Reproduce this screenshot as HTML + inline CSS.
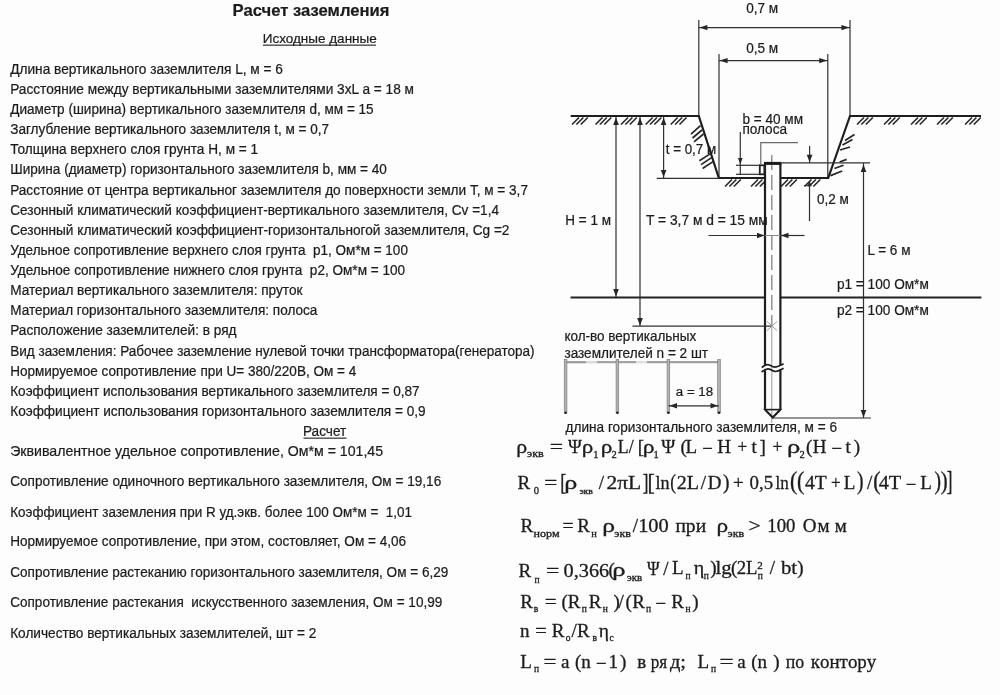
<!DOCTYPE html><html><head><meta charset="utf-8"><style>
html,body{margin:0;padding:0;background:#fdfdfd;width:1000px;height:695px;overflow:hidden}
svg{position:absolute;left:0;top:0;filter:blur(0.3px)}
.s{font-family:"Liberation Sans",sans-serif;fill:#1c1c1c;stroke:#1c1c1c;stroke-width:0.22px;white-space:pre}
.f{font-family:"Liberation Serif",serif;font-kerning:none;fill:#1c1c1c;stroke:#1c1c1c;stroke-width:0.3px;white-space:pre}
</style></head><body>
<svg width="1000" height="695" viewBox="0 0 1000 695">
<text class="s" x="232.6" y="15.9" font-size="16.65" font-weight="bold" transform="matrix(1.0000,0,0,1.030,-0.00,-0.48)" >Расчет заземления</text>
<text class="s" x="262.7" y="43.3" font-size="13.5" >Исходные данные</text>
<rect x="263" y="44.6" width="113" height="1.1" fill="#1c1c1c"/>
<text class="s" x="10.2" y="73.9" font-size="13.63" transform="matrix(1.0037,0,0,1.030,-0.04,-2.22)" >Длина вертикального заземлителя L, м = 6</text>
<text class="s" x="10.2" y="94.02" font-size="13.63" transform="matrix(1.0025,0,0,1.030,-0.03,-2.82)" >Расстояние между вертикальными заземлителями 3xL a = 18 м</text>
<text class="s" x="10.2" y="114.14" font-size="13.63" transform="matrix(0.9956,0,0,1.030,0.04,-3.42)" >Диаметр (ширина) вертикального заземлителя d, мм = 15</text>
<text class="s" x="10.2" y="134.26" font-size="13.63" transform="matrix(0.9969,0,0,1.030,0.03,-4.03)" >Заглубление вертикального заземлителя t, м = 0,7</text>
<text class="s" x="10.2" y="154.38" font-size="13.63" transform="matrix(1.0000,0,0,1.030,-0.00,-4.63)" >Толщина верхнего слоя грунта H, м = 1</text>
<text class="s" x="10.2" y="174.5" font-size="13.63" transform="matrix(0.9973,0,0,1.030,0.03,-5.24)" >Ширина (диаметр) горизонтального заземлителя b, мм = 40</text>
<text class="s" x="10.2" y="194.62" font-size="13.63" transform="matrix(0.9977,0,0,1.030,0.02,-5.84)" >Расстояние от центра вертикальног заземлителя до поверхности земли T, м = 3,7</text>
<text class="s" x="10.2" y="214.74" font-size="13.63" transform="matrix(0.9992,0,0,1.030,0.01,-6.44)" >Сезонный климатический коэффициент-вертикального заземлителя, Cv =1,4</text>
<text class="s" x="10.2" y="234.86" font-size="13.63" transform="matrix(1.0020,0,0,1.030,-0.02,-7.05)" >Сезонный климатический коэффициент-горизонтальногой заземлителя, Cg =2</text>
<text class="s" x="10.2" y="254.98" font-size="13.63" transform="matrix(0.9930,0,0,1.030,0.07,-7.65)" >Удельное сопротивление верхнего слоя грунта  p1, Ом*м = 100</text>
<text class="s" x="10.2" y="275.1" font-size="13.63" transform="matrix(0.9975,0,0,1.030,0.03,-8.25)" >Удельное сопротивление нижнего слоя грунта  p2, Ом*м = 100</text>
<text class="s" x="10.2" y="295.22" font-size="13.63" transform="matrix(0.9993,0,0,1.030,0.01,-8.86)" >Материал вертикального заземлителя: пруток</text>
<text class="s" x="10.2" y="315.34" font-size="13.63" transform="matrix(0.9961,0,0,1.030,0.04,-9.46)" >Материал горизонтального заземлителя: полоса</text>
<text class="s" x="10.2" y="335.46" font-size="13.63" transform="matrix(0.9996,0,0,1.030,0.00,-10.06)" >Расположение заземлителей: в ряд</text>
<text class="s" x="10.2" y="355.58" font-size="13.63" transform="matrix(0.9939,0,0,1.030,0.06,-10.67)" >Вид заземления: Рабочее заземление нулевой точки трансформатора(генератора)</text>
<text class="s" x="10.2" y="375.7" font-size="13.63" transform="matrix(0.9934,0,0,1.030,0.07,-11.27)" >Нормируемое сопротивление при U= 380/220В, Ом = 4</text>
<text class="s" x="10.2" y="395.82" font-size="13.63" transform="matrix(0.9978,0,0,1.030,0.02,-11.87)" >Коэффициент использования вертикального заземлителя = 0,87</text>
<text class="s" x="10.2" y="415.94" font-size="13.63" transform="matrix(1.0000,0,0,1.030,-0.00,-12.48)" >Коэффициент использования горизонтального заземлителя = 0,9</text>
<text class="s" x="303.0" y="436.4" font-size="13.6" transform="matrix(1.0000,0,0,1.030,-0.00,-13.09)" >Расчет</text>
<rect x="303.5" y="437.6" width="43" height="1.1" fill="#1c1c1c"/>
<text class="s" x="10.2" y="455.8" font-size="14.15" transform="matrix(1.0000,0,0,1.030,-0.00,-13.67)" >Эквивалентное удельное сопротивление, Ом*м = 101,45</text>
<text class="s" x="10.2" y="486.5" font-size="13.63" transform="matrix(0.9977,0,0,1.030,0.02,-14.60)" >Сопротивление одиночного вертикального заземлителя, Ом = 19,16</text>
<text class="s" x="10.2" y="516.7" font-size="13.63" transform="matrix(0.9899,0,0,1.030,0.10,-15.50)" >Коэффициент заземления при R уд.экв. более 100 Ом*м =  1,01</text>
<text class="s" x="10.2" y="546.4" font-size="13.63" transform="matrix(0.9962,0,0,1.030,0.04,-16.39)" >Нормируемое сопротивление, при этом, состовляет, Ом = 4,06</text>
<text class="s" x="10.2" y="577.0" font-size="13.63" transform="matrix(0.9970,0,0,1.030,0.03,-17.31)" >Сопротивление растеканию горизонтального заземлителя, Ом = 6,29</text>
<text class="s" x="10.2" y="607.2" font-size="13.63" transform="matrix(0.9949,0,0,1.030,0.05,-18.22)" >Сопротивление растекания  искусственного заземления, Ом = 10,99</text>
<text class="s" x="10.2" y="637.7" font-size="13.63" transform="matrix(1.0007,0,0,1.030,-0.01,-19.13)" >Количество вертикальных заземлителей, шт = 2</text>
<line x1="698.8" y1="20" x2="698.8" y2="116" stroke="#303030" stroke-width="1.2" /><line x1="850" y1="20" x2="850" y2="116" stroke="#303030" stroke-width="1.2" /><line x1="719" y1="54" x2="719" y2="178" stroke="#303030" stroke-width="1.2" /><line x1="827.8" y1="54" x2="827.8" y2="178" stroke="#303030" stroke-width="1.2" /><line x1="698.8" y1="27.6" x2="850" y2="27.6" stroke="#303030" stroke-width="1.2" /><polygon points="699.4,27.6 707.4,25.0 707.4,30.2" fill="#262626"/><polygon points="849.4,27.6 841.4,25.0 841.4,30.2" fill="#262626"/><line x1="719" y1="60.6" x2="827.8" y2="60.6" stroke="#303030" stroke-width="1.2" /><polygon points="719.6,60.6 727.6,58.0 727.6,63.2" fill="#262626"/><polygon points="827.2,60.6 819.2,58.0 819.2,63.2" fill="#262626"/><text class="s" x="746.2" y="13" font-size="13.6" transform="matrix(1.0000,0,0,1.030,-0.00,-0.39)" >0,7 м</text><text class="s" x="746.2" y="53" font-size="13.6" transform="matrix(1.0000,0,0,1.030,-0.00,-1.59)" >0,5 м</text><polyline points="570.7,116 698.8,116 718.8,178 828.2,178 850,116 981,116" fill="none" stroke="#1e1e1e" stroke-width="2.2" stroke-linejoin="miter" /><line x1="656.7" y1="178.3" x2="719" y2="178.3" stroke="#303030" stroke-width="1.3" /><line x1="572.0" y1="124.5" x2="579.0" y2="117.5" stroke="#262626" stroke-width="1.6" /><line x1="576.4" y1="124.5" x2="583.4" y2="117.5" stroke="#262626" stroke-width="1.6" /><line x1="580.8" y1="124.5" x2="587.8" y2="117.5" stroke="#262626" stroke-width="1.6" /><line x1="595.5" y1="124.5" x2="602.5" y2="117.5" stroke="#262626" stroke-width="1.6" /><line x1="599.9" y1="124.5" x2="606.9" y2="117.5" stroke="#262626" stroke-width="1.6" /><line x1="604.3" y1="124.5" x2="611.3" y2="117.5" stroke="#262626" stroke-width="1.6" /><line x1="621.0" y1="124.5" x2="628.0" y2="117.5" stroke="#262626" stroke-width="1.6" /><line x1="625.4" y1="124.5" x2="632.4" y2="117.5" stroke="#262626" stroke-width="1.6" /><line x1="629.8" y1="124.5" x2="636.8" y2="117.5" stroke="#262626" stroke-width="1.6" /><line x1="645.6" y1="124.5" x2="652.6" y2="117.5" stroke="#262626" stroke-width="1.6" /><line x1="650.0" y1="124.5" x2="657.0" y2="117.5" stroke="#262626" stroke-width="1.6" /><line x1="654.4" y1="124.5" x2="661.4" y2="117.5" stroke="#262626" stroke-width="1.6" /><line x1="670.7" y1="124.5" x2="677.7" y2="117.5" stroke="#262626" stroke-width="1.6" /><line x1="675.1" y1="124.5" x2="682.1" y2="117.5" stroke="#262626" stroke-width="1.6" /><line x1="679.5" y1="124.5" x2="686.5" y2="117.5" stroke="#262626" stroke-width="1.6" /><line x1="857.0" y1="124.5" x2="864.0" y2="117.5" stroke="#262626" stroke-width="1.6" /><line x1="861.4" y1="124.5" x2="868.4" y2="117.5" stroke="#262626" stroke-width="1.6" /><line x1="865.8" y1="124.5" x2="872.8" y2="117.5" stroke="#262626" stroke-width="1.6" /><line x1="884.0" y1="124.5" x2="891.0" y2="117.5" stroke="#262626" stroke-width="1.6" /><line x1="888.4" y1="124.5" x2="895.4" y2="117.5" stroke="#262626" stroke-width="1.6" /><line x1="892.8" y1="124.5" x2="899.8" y2="117.5" stroke="#262626" stroke-width="1.6" /><line x1="911.0" y1="124.5" x2="918.0" y2="117.5" stroke="#262626" stroke-width="1.6" /><line x1="915.4" y1="124.5" x2="922.4" y2="117.5" stroke="#262626" stroke-width="1.6" /><line x1="919.8" y1="124.5" x2="926.8" y2="117.5" stroke="#262626" stroke-width="1.6" /><line x1="937.0" y1="124.5" x2="944.0" y2="117.5" stroke="#262626" stroke-width="1.6" /><line x1="941.4" y1="124.5" x2="948.4" y2="117.5" stroke="#262626" stroke-width="1.6" /><line x1="945.8" y1="124.5" x2="952.8" y2="117.5" stroke="#262626" stroke-width="1.6" /><line x1="965.0" y1="124.5" x2="972.0" y2="117.5" stroke="#262626" stroke-width="1.6" /><line x1="969.4" y1="124.5" x2="976.4" y2="117.5" stroke="#262626" stroke-width="1.6" /><line x1="973.8" y1="124.5" x2="980.8" y2="117.5" stroke="#262626" stroke-width="1.6" /><line x1="725.0" y1="186.5" x2="732.0" y2="179.5" stroke="#262626" stroke-width="1.6" /><line x1="729.4" y1="186.5" x2="736.4" y2="179.5" stroke="#262626" stroke-width="1.6" /><line x1="733.8" y1="186.5" x2="740.8" y2="179.5" stroke="#262626" stroke-width="1.6" /><line x1="751.0" y1="186.5" x2="758.0" y2="179.5" stroke="#262626" stroke-width="1.6" /><line x1="755.4" y1="186.5" x2="762.4" y2="179.5" stroke="#262626" stroke-width="1.6" /><line x1="759.8" y1="186.5" x2="766.8" y2="179.5" stroke="#262626" stroke-width="1.6" /><line x1="781.0" y1="186.5" x2="788.0" y2="179.5" stroke="#262626" stroke-width="1.6" /><line x1="785.4" y1="186.5" x2="792.4" y2="179.5" stroke="#262626" stroke-width="1.6" /><line x1="789.8" y1="186.5" x2="796.8" y2="179.5" stroke="#262626" stroke-width="1.6" /><line x1="804.5" y1="186.5" x2="811.5" y2="179.5" stroke="#262626" stroke-width="1.6" /><line x1="808.9" y1="186.5" x2="815.9" y2="179.5" stroke="#262626" stroke-width="1.6" /><line x1="813.3" y1="186.5" x2="820.3" y2="179.5" stroke="#262626" stroke-width="1.6" /><line x1="691" y1="134.1" x2="700.5" y2="125.7" stroke="#262626" stroke-width="1.7" /><line x1="692.5" y1="138" x2="702" y2="130" stroke="#262626" stroke-width="1.7" /><line x1="694" y1="141.9" x2="703.5" y2="134" stroke="#262626" stroke-width="1.7" /><line x1="699.4" y1="160.7" x2="710.5" y2="153.6" stroke="#262626" stroke-width="1.7" /><line x1="701" y1="164.6" x2="711.5" y2="157.6" stroke="#262626" stroke-width="1.7" /><line x1="702.6" y1="168.5" x2="713" y2="161.6" stroke="#262626" stroke-width="1.7" /><line x1="845" y1="140.5" x2="854.5" y2="134.5" stroke="#262626" stroke-width="1.7" /><line x1="842.5" y1="145" x2="852.5" y2="139.5" stroke="#262626" stroke-width="1.7" /><line x1="840" y1="150" x2="850" y2="147" stroke="#262626" stroke-width="1.7" /><line x1="839.6" y1="162" x2="846.7" y2="159.4" stroke="#262626" stroke-width="1.7" /><line x1="834.4" y1="168.5" x2="843.5" y2="165.2" stroke="#262626" stroke-width="1.7" /><line x1="830.5" y1="175.6" x2="842.2" y2="171" stroke="#262626" stroke-width="1.7" /><line x1="616" y1="117" x2="616" y2="297" stroke="#303030" stroke-width="1.2" /><polygon points="616.0,117.5 613.2,125.0 618.8,125.0" fill="#262626"/><polygon points="616.0,296.5 613.2,289.0 618.8,289.0" fill="#262626"/><line x1="640" y1="117" x2="640" y2="326" stroke="#303030" stroke-width="1.2" /><polygon points="640.0,117.5 637.2,125.0 642.8,125.0" fill="#262626"/><polygon points="640.0,325.5 637.2,318.0 642.8,318.0" fill="#262626"/><line x1="663.6" y1="117" x2="663.6" y2="178" stroke="#303030" stroke-width="1.2" /><polygon points="663.6,117.5 660.8,125.0 666.4,125.0" fill="#262626"/><polygon points="663.6,177.5 660.8,170.0 666.4,170.0" fill="#262626"/><line x1="570.5" y1="297.5" x2="981.4" y2="297.5" stroke="#222" stroke-width="2.0" /><rect x="765" y="163.4" width="15.4" height="246" fill="#fdfdfd"/><line x1="771.8" y1="155" x2="771.8" y2="326" stroke="#8a8a8a" stroke-width="1.4" stroke-dasharray="15 5"/><line x1="771.8" y1="326" x2="771.8" y2="423" stroke="#9a9a9a" stroke-width="1.0" /><line x1="765" y1="163.4" x2="765" y2="365.2" stroke="#1e1e1e" stroke-width="2.2" /><line x1="765" y1="370.3" x2="765" y2="409.4" stroke="#1e1e1e" stroke-width="2.2" /><line x1="780.4" y1="163.4" x2="780.4" y2="365.6" stroke="#1e1e1e" stroke-width="2.2" /><line x1="780.4" y1="369.4" x2="780.4" y2="409.4" stroke="#1e1e1e" stroke-width="2.2" /><line x1="764" y1="163.4" x2="781.4" y2="163.4" stroke="#1a1a1a" stroke-width="3" /><line x1="765" y1="409.6" x2="780.4" y2="409.6" stroke="#1e1e1e" stroke-width="1.6" /><polyline points="764.2,408.8 772.7,417.5 781.2,408.8" fill="none" stroke="#1e1e1e" stroke-width="2.2" stroke-linejoin="miter" /><line x1="632.5" y1="326.2" x2="771.8" y2="326.2" stroke="#303030" stroke-width="1.3" /><line x1="767" y1="321.5" x2="777" y2="330.5" stroke="#999" stroke-width="1.0" /><line x1="767" y1="330.5" x2="777" y2="321.5" stroke="#999" stroke-width="1.0" /><path d="M761.8,367.6 C763.5,366 765.5,364.2 768,364.6 C770.5,365 772,367.3 775,367.2 C778,367.1 781,365 783.6,363.8" fill="none" stroke="#1e1e1e" stroke-width="1.7"/><path d="M761.5,372 C763.5,370.5 765.5,368.8 768,368.8 C770.5,368.8 772.5,371.5 775.5,371.5 C778.5,371.5 781,369.5 783.6,368.2" fill="none" stroke="#1e1e1e" stroke-width="1.7"/><rect x="759.8" y="165.3" width="4.6" height="9" fill="none" stroke="#222" stroke-width="1.8"/><line x1="736" y1="165.3" x2="759.8" y2="165.3" stroke="#303030" stroke-width="1.2" /><line x1="736" y1="174.3" x2="759.8" y2="174.3" stroke="#303030" stroke-width="1.2" /><line x1="740.3" y1="132" x2="740.3" y2="175" stroke="#303030" stroke-width="1.2" /><polygon points="740.3,164.5 738.0,158.0 742.6,158.0" fill="#262626"/><polyline points="760.8,165 760.8,142.6 798,142.6" fill="none" stroke="#6a6a6a" stroke-width="1.2" stroke-linejoin="miter" /><line x1="780" y1="162.8" x2="870" y2="162.8" stroke="#303030" stroke-width="1.2" /><line x1="809.6" y1="146" x2="809.6" y2="163" stroke="#303030" stroke-width="1.2" /><polygon points="809.6,162.3 806.8,154.8 812.4,154.8" fill="#262626"/><line x1="809.5" y1="181" x2="809.5" y2="221" stroke="#303030" stroke-width="1.2" /><polygon points="809.5,181.2 807.1,186.2 811.9,186.2" fill="#262626"/><line x1="804" y1="185.6" x2="810" y2="185.6" stroke="#303030" stroke-width="1.0" /><line x1="708.5" y1="235.5" x2="765" y2="235.5" stroke="#303030" stroke-width="1.2" /><polygon points="764.5,235.5 757.0,232.7 757.0,238.3" fill="#262626"/><line x1="780.4" y1="235.5" x2="804.5" y2="235.5" stroke="#303030" stroke-width="1.2" /><polygon points="781.0,235.5 788.5,232.7 788.5,238.3" fill="#262626"/><line x1="765" y1="235.5" x2="780.4" y2="235.5" stroke="#888" stroke-width="1.0" /><line x1="772" y1="418" x2="871" y2="418" stroke="#303030" stroke-width="1.2" /><line x1="863.5" y1="163" x2="863.5" y2="418" stroke="#303030" stroke-width="1.2" /><polygon points="863.5,164.5 860.7,172.0 866.3,172.0" fill="#262626"/><polygon points="863.5,417.5 860.7,410.0 866.3,410.0" fill="#262626"/><line x1="564" y1="362.2" x2="586" y2="362.2" stroke="#9c9c9c" stroke-width="2.2" /><line x1="586" y1="362.2" x2="597" y2="362.2" stroke="#d8d8d8" stroke-width="2.2" /><line x1="597" y1="362.2" x2="636" y2="362.2" stroke="#a4a4a4" stroke-width="2.2" /><line x1="636" y1="362.2" x2="647" y2="362.2" stroke="#dcdcdc" stroke-width="2.2" /><line x1="647" y1="362.2" x2="720" y2="362.2" stroke="#a0a0a0" stroke-width="2.2" /><rect x="564.3000000000001" y="359.5" width="2.6" height="53.5" fill="#b4b4b4" stroke="#7c7c7c" stroke-width="0.7"/><circle cx="565.6" cy="412.8" r="1.3" fill="#222"/><rect x="616.1" y="359.5" width="2.6" height="53.5" fill="#b4b4b4" stroke="#7c7c7c" stroke-width="0.7"/><circle cx="617.4" cy="412.8" r="1.3" fill="#222"/><rect x="667.1" y="359.5" width="2.6" height="53.5" fill="#b4b4b4" stroke="#7c7c7c" stroke-width="0.7"/><circle cx="668.4" cy="412.8" r="1.3" fill="#222"/><rect x="717.7" y="359.5" width="2.6" height="53.5" fill="#b4b4b4" stroke="#7c7c7c" stroke-width="0.7"/><circle cx="719" cy="412.8" r="1.3" fill="#222"/><line x1="668.4" y1="405.8" x2="719" y2="405.8" stroke="#303030" stroke-width="1.2" /><polygon points="669.5,405.8 677.0,403.0 677.0,408.6" fill="#262626"/><polygon points="718.0,405.8 710.5,403.0 710.5,408.6" fill="#262626"/><text class="s" x="742.4" y="124.5" font-size="13.6" transform="matrix(1.0000,0,0,1.030,-0.00,-3.74)" >b = 40 мм</text><text class="s" x="742.4" y="134.5" font-size="13.6" transform="matrix(1.0000,0,0,1.030,-0.00,-4.04)" >полоса</text><text class="s" x="665.7" y="154.3" font-size="13.4" transform="matrix(1.0000,0,0,1.030,-0.00,-4.63)" >t = 0,7 м</text><text class="s" x="817.0" y="204.3" font-size="13.55" transform="matrix(1.0000,0,0,1.030,-0.00,-6.13)" >0,2 м</text><text class="s" x="565.3" y="224.7" font-size="13.5" transform="matrix(1.0000,0,0,1.030,-0.00,-6.74)" >H = 1 м</text><text class="s" x="646.0" y="224.7" font-size="13.8" transform="matrix(1.0000,0,0,1.030,-0.00,-6.74)" >T = 3,7 м d = 15 мм</text><text class="s" x="867.4" y="254.7" font-size="13.55" transform="matrix(1.0000,0,0,1.030,-0.00,-7.64)" >L = 6 м</text><text class="s" x="836.9" y="289.0" font-size="13.65" transform="matrix(1.0000,0,0,1.030,-0.00,-8.67)" >p1 = 100 Ом*м</text><text class="s" x="836.9" y="315.4" font-size="13.65" transform="matrix(1.0000,0,0,1.030,-0.00,-9.46)" >p2 = 100 Ом*м</text><text class="s" x="564.4" y="341.2" font-size="13.5" transform="matrix(1.0000,0,0,1.030,-0.00,-10.24)" >кол-во вертикальных</text><text class="s" x="564.4" y="358.3" font-size="13.6" transform="matrix(1.0000,0,0,1.030,-0.00,-10.75)" >заземлителей n = 2 шт</text><text class="s" x="675.8" y="395.7" font-size="13.3" transform="matrix(1.0000,0,0,1.030,-0.00,-11.87)" >a = 18</text><text class="s" x="565.6" y="432" font-size="13.62" transform="matrix(1.0000,0,0,1.030,-0.00,-12.96)" >длина горизонтального заземлителя, м = 6</text>
<text class="f" x="0" y="0" font-size="19" transform="matrix(1.1487,0,0,1.0000,516.14,452.80)">ρ</text><text class="f" x="0" y="0" font-size="10.5" transform="matrix(1.1500,0,0,1.0000,527.04,457.20)">экв</text><text class="f" x="0" y="0" font-size="19" transform="matrix(1.2442,0,0,1.0000,549.67,452.80)">=</text><text class="f" x="0" y="0" font-size="19" transform="matrix(0.9845,0,0,1.0000,567.90,452.80)">Ψ</text><text class="f" x="0" y="0" font-size="19" transform="matrix(1.2155,0,0,1.0000,581.86,452.80)">ρ</text><text class="f" x="0" y="0" font-size="10.5" transform="matrix(1.0000,0,0,1.0000,593.13,458.00)">1</text><text class="f" x="0" y="0" font-size="19" transform="matrix(1.2288,0,0,1.0000,600.65,452.80)">ρ</text><text class="f" x="0" y="0" font-size="10.5" transform="matrix(1.0000,0,0,1.0000,611.59,458.00)">2</text><text class="f" x="0" y="0" font-size="19" transform="matrix(0.9365,0,0,1.0000,617.84,452.80)">L/</text><text class="f" x="0" y="0" font-size="19" transform="matrix(1.0000,0,0,1.0000,637.64,452.80)">[</text><text class="f" x="0" y="0" font-size="19" transform="matrix(1.2422,0,0,1.0000,642.83,452.80)">ρ</text><text class="f" x="0" y="0" font-size="10.5" transform="matrix(1.0000,0,0,1.0000,653.43,458.00)">1</text><text class="f" x="0" y="0" font-size="19" transform="matrix(0.9988,0,0,1.0000,661.29,452.80)">Ψ</text><text class="f" x="0" y="0" font-size="19" transform="matrix(1.0000,0,0,1.0000,680.52,452.80)">(</text><text class="f" x="0" y="0" font-size="19" transform="matrix(1.0000,0,0,1.0000,685.50,452.80)">L</text><text class="f" x="0" y="0" font-size="19" transform="matrix(0.9000,0,0,1.0000,703.27,452.80)">–</text><text class="f" x="0" y="0" font-size="19" transform="matrix(1.0000,0,0,1.0000,717.30,452.80)">H</text><text class="f" x="0" y="0" font-size="19" transform="matrix(0.9000,0,0,1.0000,737.50,452.80)">+</text><text class="f" x="0" y="0" font-size="19" transform="matrix(1.0000,0,0,1.0000,751.46,452.80)">t</text><text class="f" x="0" y="0" font-size="19" transform="matrix(1.0000,0,0,1.0000,759.46,452.80)">]</text><text class="f" x="0" y="0" font-size="19" transform="matrix(0.9048,0,0,1.0000,772.49,452.80)">+</text><text class="f" x="0" y="0" font-size="19" transform="matrix(1.4000,0,0,1.0000,786.94,452.80)">ρ</text><text class="f" x="0" y="0" font-size="10.5" transform="matrix(1.0000,0,0,1.0000,799.59,458.00)">2</text><text class="f" x="0" y="0" font-size="19" transform="matrix(1.0000,0,0,1.0000,805.92,452.80)">(</text><text class="f" x="0" y="0" font-size="19" transform="matrix(1.0000,0,0,1.0000,812.80,452.80)">H</text><text class="f" x="0" y="0" font-size="19" transform="matrix(0.9000,0,0,1.0000,832.47,452.80)">–</text><text class="f" x="0" y="0" font-size="19" transform="matrix(1.0000,0,0,1.0000,845.46,452.80)">t</text><text class="f" x="0" y="0" font-size="19" transform="matrix(1.0000,0,0,1.0000,853.64,452.80)">)</text><text class="f" x="0" y="0" font-size="19" transform="matrix(1.0000,0,0,1.0000,517.40,488.60)">R</text><text class="f" x="0" y="0" font-size="10.5" transform="matrix(1.0000,0,0,1.0000,533.75,493.60)">0</text><text class="f" x="0" y="0" font-size="19" transform="matrix(1.2215,0,0,1.0000,544.19,488.60)">=</text><text class="f" x="0" y="0" font-size="19" transform="matrix(0.9455,0,0,1.2210,560.32,490.15)">[</text><text class="f" x="0" y="0" font-size="19" transform="matrix(1.3758,0,0,1.0000,564.17,488.60)">ρ</text><text class="f" x="0" y="0" font-size="8.5" transform="matrix(1.1500,0,0,1.0000,579.42,493.60)">экв</text><text class="f" x="0" y="0" font-size="19" transform="matrix(1.0000,0,0,1.0000,598.75,488.60)">/</text><text class="f" x="0" y="0" font-size="19" transform="matrix(1.1315,0,0,1.0000,606.41,488.60)">2πL</text><text class="f" x="0" y="0" font-size="19" transform="matrix(0.9000,0,0,1.2210,642.73,490.15)">]</text><text class="f" x="0" y="0" font-size="19" transform="matrix(1.1500,0,0,1.2210,647.43,490.15)">[</text><text class="f" x="0" y="0" font-size="19" transform="matrix(0.9567,0,0,1.0000,655.39,488.60)">ln</text><text class="f" x="0" y="0" font-size="19" transform="matrix(0.9000,0,0,1.1145,670.20,488.74)">(</text><text class="f" x="0" y="0" font-size="19" transform="matrix(1.0559,0,0,1.0000,676.67,488.60)">2L</text><text class="f" x="0" y="0" font-size="19" transform="matrix(1.0000,0,0,1.0000,700.85,488.60)">/</text><text class="f" x="0" y="0" font-size="19" transform="matrix(1.0000,0,0,1.0000,707.80,488.60)">D</text><text class="f" x="0" y="0" font-size="19" transform="matrix(1.0246,0,0,1.1145,723.02,488.74)">)</text><text class="f" x="0" y="0" font-size="19" transform="matrix(0.9953,0,0,1.0000,733.11,488.60)">+</text><text class="f" x="0" y="0" font-size="19" transform="matrix(0.9917,0,0,1.0000,749.53,488.60)">0,5</text><text class="f" x="0" y="0" font-size="19" transform="matrix(0.9000,0,0,1.0000,775.51,488.60)">ln</text><text class="f" x="0" y="0" font-size="19" transform="matrix(1.1476,0,0,1.3002,790.09,488.79)">(</text><text class="f" x="0" y="0" font-size="19" transform="matrix(1.1500,0,0,1.3002,796.89,488.79)">(</text><text class="f" x="0" y="0" font-size="19" transform="matrix(1.0333,0,0,1.0000,804.97,488.60)">4T</text><text class="f" x="0" y="0" font-size="19" transform="matrix(0.9000,0,0,1.0000,831.00,488.60)">+</text><text class="f" x="0" y="0" font-size="19" transform="matrix(1.0000,0,0,1.0000,843.70,488.60)">L</text><text class="f" x="0" y="0" font-size="19" transform="matrix(1.0246,0,0,1.3002,856.92,488.79)">)</text><text class="f" x="0" y="0" font-size="19" transform="matrix(1.0000,0,0,1.0000,866.95,488.60)">/</text><text class="f" x="0" y="0" font-size="19" transform="matrix(1.1500,0,0,1.3002,873.19,488.79)">(</text><text class="f" x="0" y="0" font-size="19" transform="matrix(1.0725,0,0,1.0000,878.65,488.60)">4T</text><text class="f" x="0" y="0" font-size="19" transform="matrix(0.9000,0,0,1.0000,906.67,488.60)">–</text><text class="f" x="0" y="0" font-size="19" transform="matrix(1.0000,0,0,1.0000,920.30,488.60)">L</text><text class="f" x="0" y="0" font-size="19" transform="matrix(1.0246,0,0,1.3002,934.52,488.79)">)</text><text class="f" x="0" y="0" font-size="19" transform="matrix(1.0861,0,0,1.3002,940.68,488.79)">)</text><text class="f" x="0" y="0" font-size="19" transform="matrix(0.9000,0,0,1.4563,946.73,490.35)">]</text><text class="f" x="0" y="0" font-size="19" transform="matrix(1.0000,0,0,1.0000,520.60,531.80)">R</text><text class="f" x="0" y="0" font-size="10.5" transform="matrix(1.1500,0,0,1.0000,533.53,536.50)">норм</text><text class="f" x="0" y="0" font-size="19" transform="matrix(1.0406,0,0,1.0000,562.47,531.80)">=</text><text class="f" x="0" y="0" font-size="19" transform="matrix(1.0000,0,0,1.0000,577.30,531.80)">R</text><text class="f" x="0" y="0" font-size="10.5" transform="matrix(1.0000,0,0,1.0000,591.16,536.50)">н</text><text class="f" x="0" y="0" font-size="19" transform="matrix(1.3490,0,0,1.0000,602.30,531.80)">ρ</text><text class="f" x="0" y="0" font-size="10.5" transform="matrix(1.1500,0,0,1.0000,614.34,536.50)">экв</text><text class="f" x="0" y="0" font-size="19" transform="matrix(1.0000,0,0,1.0000,632.75,531.80)">/</text><text class="f" x="0" y="0" font-size="19" transform="matrix(1.0764,0,0,1.0000,638.15,531.80)">100</text><text class="f" x="0" y="0" font-size="19" transform="matrix(1.0294,0,0,1.0000,675.40,531.80)">при</text><text class="f" x="0" y="0" font-size="19" transform="matrix(1.2288,0,0,1.0000,716.55,531.80)">ρ</text><text class="f" x="0" y="0" font-size="10.5" transform="matrix(1.1500,0,0,1.0000,727.54,536.50)">экв</text><text class="f" x="0" y="0" font-size="19" transform="matrix(1.1424,0,0,1.0000,748.45,531.80)">></text><text class="f" x="0" y="0" font-size="19" transform="matrix(0.9883,0,0,1.0000,767.30,531.80)">100</text><text class="f" x="0" y="0" font-size="19" transform="matrix(1.0000,0,0,1.0000,802.77,531.80)">О</text><text class="f" x="0" y="0" font-size="19" transform="matrix(1.0000,0,0,1.0000,817.61,531.80)">м</text><text class="f" x="0" y="0" font-size="19" transform="matrix(1.0000,0,0,1.0000,834.71,531.80)">м</text><text class="f" x="0" y="0" font-size="19" transform="matrix(1.0000,0,0,1.0000,518.40,577.30)">R</text><text class="f" x="0" y="0" font-size="9.5" transform="matrix(1.0000,0,0,1.0000,534.38,582.50)">п</text><text class="f" x="0" y="0" font-size="19" transform="matrix(1.2442,0,0,1.0000,546.07,577.30)">=</text><text class="f" x="0" y="0" font-size="19" transform="matrix(1.0685,0,0,1.0000,563.58,576.50)">0,366</text><text class="f" x="0" y="0" font-size="19" transform="matrix(1.0000,0,0,1.0000,608.52,576.00)">(</text><text class="f" x="0" y="0" font-size="19" transform="matrix(1.4000,0,0,1.0000,612.14,575.80)">ρ</text><text class="f" x="0" y="0" font-size="9.5" transform="matrix(1.1500,0,0,1.0000,626.98,580.80)">экв</text><text class="f" x="0" y="0" font-size="19" transform="matrix(0.9000,0,0,1.0000,647.10,575.00)">Ψ</text><text class="f" x="0" y="0" font-size="19" transform="matrix(1.0000,0,0,1.0000,663.35,574.80)">/</text><text class="f" x="0" y="0" font-size="19" transform="matrix(1.0000,0,0,1.0000,671.90,574.30)">L</text><text class="f" x="0" y="0" font-size="9.5" transform="matrix(1.0000,0,0,1.0000,685.58,579.00)">п</text><text class="f" x="0" y="0" font-size="19" transform="matrix(1.0525,0,0,1.0000,693.84,574.30)">η</text><text class="f" x="0" y="0" font-size="9.5" transform="matrix(1.0000,0,0,1.0000,703.78,579.00)">п</text><text class="f" x="0" y="0" font-size="19" transform="matrix(1.0000,0,0,1.0000,710.34,574.30)">)</text><text class="f" x="0" y="0" font-size="19" transform="matrix(1.0971,0,0,1.0000,715.43,574.30)">lg</text><text class="f" x="0" y="0" font-size="19" transform="matrix(1.0000,0,0,1.0000,731.12,574.30)">(</text><text class="f" x="0" y="0" font-size="19" transform="matrix(0.9880,0,0,1.0000,736.73,574.30)">2L</text><text class="f" x="0" y="0" font-size="11" transform="matrix(1.0000,0,0,1.0000,757.37,568.80)">2</text><text class="f" x="0" y="0" font-size="9.5" transform="matrix(1.0000,0,0,1.0000,757.68,579.00)">п</text><text class="f" x="0" y="0" font-size="19" transform="matrix(1.0000,0,0,1.0000,769.75,574.30)">/</text><text class="f" x="0" y="0" font-size="19" transform="matrix(1.0977,0,0,1.0000,780.95,574.30)">bt</text><text class="f" x="0" y="0" font-size="19" transform="matrix(1.0000,0,0,1.0000,797.14,574.30)">)</text><text class="f" x="0" y="0" font-size="19" transform="matrix(1.0000,0,0,1.0000,520.30,608.20)">R</text><text class="f" x="0" y="0" font-size="9.5" transform="matrix(1.0000,0,0,1.0000,533.68,612.00)">в</text><text class="f" x="0" y="0" font-size="19" transform="matrix(1.1084,0,0,1.0000,544.80,608.20)">=</text><text class="f" x="0" y="0" font-size="19" transform="matrix(1.0000,0,0,1.0000,561.52,608.20)">(</text><text class="f" x="0" y="0" font-size="19" transform="matrix(1.0000,0,0,1.0000,567.80,608.20)">R</text><text class="f" x="0" y="0" font-size="9.5" transform="matrix(1.0000,0,0,1.0000,581.68,612.00)">п</text><text class="f" x="0" y="0" font-size="19" transform="matrix(1.0000,0,0,1.0000,588.80,608.20)">R</text><text class="f" x="0" y="0" font-size="9.5" transform="matrix(1.0000,0,0,1.0000,602.68,612.00)">н</text><text class="f" x="0" y="0" font-size="19" transform="matrix(1.0000,0,0,1.0000,613.54,608.20)">)</text><text class="f" x="0" y="0" font-size="19" transform="matrix(1.0000,0,0,1.0000,618.55,608.20)">/</text><text class="f" x="0" y="0" font-size="19" transform="matrix(1.0000,0,0,1.0000,625.42,608.20)">(</text><text class="f" x="0" y="0" font-size="19" transform="matrix(1.0000,0,0,1.0000,632.30,608.20)">R</text><text class="f" x="0" y="0" font-size="9.5" transform="matrix(1.0000,0,0,1.0000,645.88,612.00)">п</text><text class="f" x="0" y="0" font-size="19" transform="matrix(0.9017,0,0,1.0000,656.47,608.20)">–</text><text class="f" x="0" y="0" font-size="19" transform="matrix(1.0000,0,0,1.0000,671.30,608.20)">R</text><text class="f" x="0" y="0" font-size="9.5" transform="matrix(1.0000,0,0,1.0000,685.48,612.00)">н</text><text class="f" x="0" y="0" font-size="19" transform="matrix(1.0000,0,0,1.0000,692.14,608.20)">)</text><text class="f" x="0" y="0" font-size="19" transform="matrix(1.0000,0,0,1.0000,520.11,637.20)">n</text><text class="f" x="0" y="0" font-size="19" transform="matrix(1.0745,0,0,1.0000,535.13,637.20)">=</text><text class="f" x="0" y="0" font-size="19" transform="matrix(1.0000,0,0,1.0000,551.80,637.20)">R</text><text class="f" x="0" y="0" font-size="9.5" transform="matrix(1.0000,0,0,1.0000,565.79,641.00)">о</text><text class="f" x="0" y="0" font-size="19" transform="matrix(1.0000,0,0,1.0000,571.55,637.20)">/</text><text class="f" x="0" y="0" font-size="19" transform="matrix(1.0000,0,0,1.0000,577.00,637.20)">R</text><text class="f" x="0" y="0" font-size="9.5" transform="matrix(1.0000,0,0,1.0000,592.38,641.00)">в</text><text class="f" x="0" y="0" font-size="19" transform="matrix(1.0293,0,0,1.0000,598.84,637.20)">η</text><text class="f" x="0" y="0" font-size="9.5" transform="matrix(1.0000,0,0,1.0000,609.59,641.00)">с</text><text class="f" x="0" y="0" font-size="19" transform="matrix(1.0000,0,0,1.0000,520.30,668.00)">L</text><text class="f" x="0" y="0" font-size="9.5" transform="matrix(1.0000,0,0,1.0000,533.98,671.50)">п</text><text class="f" x="0" y="0" font-size="19" transform="matrix(1.2102,0,0,1.0000,543.40,668.00)">=</text><text class="f" x="0" y="0" font-size="19" transform="matrix(1.0000,0,0,1.0000,560.98,668.00)">a</text><text class="f" x="0" y="0" font-size="19" transform="matrix(1.0000,0,0,1.0000,575.12,668.00)">(</text><text class="f" x="0" y="0" font-size="19" transform="matrix(1.0000,0,0,1.0000,581.21,668.00)">n</text><text class="f" x="0" y="0" font-size="19" transform="matrix(0.9000,0,0,1.0000,596.97,668.00)">–</text><text class="f" x="0" y="0" font-size="19" transform="matrix(1.0000,0,0,1.0000,608.48,668.00)">1</text><text class="f" x="0" y="0" font-size="19" transform="matrix(1.0000,0,0,1.0000,619.94,668.00)">)</text><text class="f" x="0" y="0" font-size="19" transform="matrix(1.0000,0,0,1.0000,637.31,668.00)">в</text><text class="f" x="0" y="0" font-size="19" transform="matrix(0.9000,0,0,1.0000,650.67,668.00)">ря</text><text class="f" x="0" y="0" font-size="19" transform="matrix(1.0749,0,0,1.0000,669.95,668.00)">д;</text><text class="f" x="0" y="0" font-size="19" transform="matrix(1.0000,0,0,1.0000,697.40,668.00)">L</text><text class="f" x="0" y="0" font-size="9.5" transform="matrix(1.0000,0,0,1.0000,711.08,671.50)">п</text><text class="f" x="0" y="0" font-size="19" transform="matrix(1.3233,0,0,1.0000,719.50,668.00)">=</text><text class="f" x="0" y="0" font-size="19" transform="matrix(1.0000,0,0,1.0000,737.18,668.00)">a</text><text class="f" x="0" y="0" font-size="19" transform="matrix(1.0000,0,0,1.0000,751.32,668.00)">(</text><text class="f" x="0" y="0" font-size="19" transform="matrix(1.0000,0,0,1.0000,757.51,668.00)">n</text><text class="f" x="0" y="0" font-size="19" transform="matrix(1.0000,0,0,1.0000,773.34,668.00)">)</text><text class="f" x="0" y="0" font-size="19" transform="matrix(0.9408,0,0,1.0000,785.63,668.00)">по</text><text class="f" x="0" y="0" font-size="19" transform="matrix(0.9972,0,0,1.0000,810.81,668.00)">контору</text>
</svg></body></html>
